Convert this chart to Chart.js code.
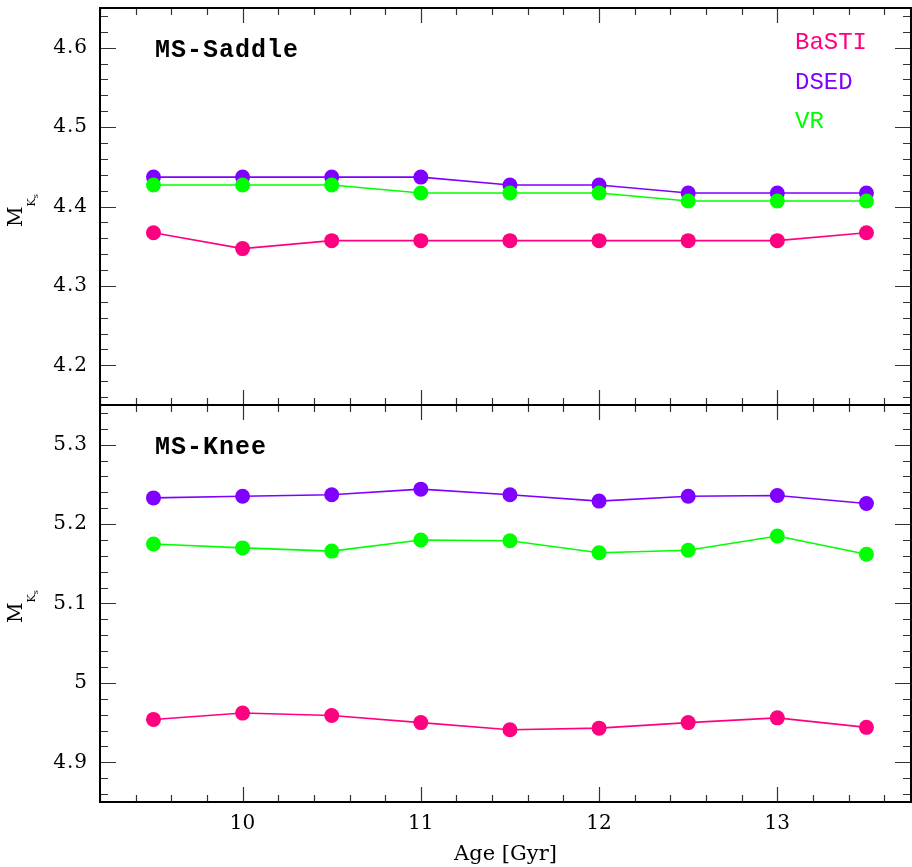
<!DOCTYPE html>
<html><head><meta charset="utf-8">
<script src="https://cdn.jsdelivr.net/npm/chart.js@4.4.1/dist/chart.umd.min.js"></script>
<style>
html,body{margin:0;padding:0;background:#fff;}
#wrap{position:relative;width:912px;height:867px;overflow:hidden;background:#fff;}
canvas{position:absolute;left:0;}
#c1{top:0;} #c2{top:400px;}
</style></head><body>
<div id="wrap"><canvas id="c1" width="912" height="406"></canvas><canvas id="c2" width="912" height="467"></canvas></div>
<script>
// ---- data ----
const ages = [9.5, 10, 10.5, 11, 11.5, 12, 12.5, 13, 13.5];
const seriesNames = ['BaSTI', 'DSED', 'VR'];
const seriesColors = ['#ff0080', '#8000ff', '#00ff00'];
const panelTitles = ['MS-Saddle', 'MS-Knee'];

const saddleBaSTI = [4.367, 4.347, 4.357, 4.357, 4.357, 4.357, 4.357, 4.357, 4.367];
const saddleDSED  = [4.437, 4.437, 4.437, 4.437, 4.427, 4.427, 4.417, 4.417, 4.417];
const saddleVR    = [4.427, 4.427, 4.427, 4.417, 4.417, 4.417, 4.407, 4.407, 4.407];

const kneeBaSTI = [4.954, 4.962, 4.959, 4.950, 4.941, 4.943, 4.950, 4.956, 4.944];
const kneeDSED  = [5.233, 5.235, 5.237, 5.244, 5.237, 5.229, 5.235, 5.236, 5.226];
const kneeVR    = [5.175, 5.170, 5.166, 5.180, 5.179, 5.164, 5.167, 5.185, 5.162];

const xTicks = [10, 11, 12, 13];
const yTicksTop = [4.2, 4.3, 4.4, 4.5, 4.6];
const yTickLabelsTop = ['4.2', '4.3', '4.4', '4.5', '4.6'];
const yTicksBottom = [4.9, 5.0, 5.1, 5.2, 5.3];
const yTickLabelsBottom = ['4.9', '5', '5.1', '5.2', '5.3'];
const xTitle = 'Age [Gyr]';

// ---- helpers ----
const serifFont = '"DejaVu Serif", "Liberation Serif", serif';
const monoFont = '"Liberation Mono", "DejaVu Sans Mono", monospace';

function makeDatasets(vals) {
  return vals.map((v, i) => ({
    label: seriesNames[i],
    data: ages.map((a, k) => ({x: a, y: v[k]})),
    borderColor: seriesColors[i],
    backgroundColor: seriesColors[i],
    pointBackgroundColor: seriesColors[i],
    pointBorderWidth: 0,
    pointRadius: 7.5,
    pointHoverRadius: 7.5,
    borderWidth: 1.6,
    tension: 0,
    order: 2 - i
  }));
}

function tickPlugin(cfg) {
  return {
    id: 'frameTicks',
    afterDraw(chart) {
      const {ctx, chartArea: a, scales: {x, y}} = chart;
      ctx.save();
      // ticks
      ctx.strokeStyle = '#333';
      ctx.lineWidth = 1.2;
      const xMinorStep = 0.2;
      for (let i = Math.ceil(x.min / xMinorStep - 1e-6); i * xMinorStep <= x.max + 1e-6; i++) {
        const v = i * xMinorStep;
        const major = Math.abs(v - Math.round(v)) < 1e-6;
        const len = major ? 15 : 7;
        const px = Math.round(x.getPixelForValue(v)) + 0.5;
        ctx.beginPath();
        ctx.moveTo(px, a.top); ctx.lineTo(px, a.top + len);
        ctx.moveTo(px, a.bottom); ctx.lineTo(px, a.bottom - len);
        ctx.stroke();
      }
      const yMinorStep = 0.02;
      for (let i = Math.ceil(y.min / yMinorStep - 1e-6); i * yMinorStep <= y.max + 1e-6; i++) {
        const v = i * yMinorStep;
        const major = Math.abs(v * 10 - Math.round(v * 10)) < 1e-6;
        const len = major ? 16 : 8;
        const py = Math.round(y.getPixelForValue(v)) + 0.5;
        ctx.beginPath();
        ctx.moveTo(a.left, py); ctx.lineTo(a.left + len, py);
        ctx.moveTo(a.right, py); ctx.lineTo(a.right - len, py);
        ctx.stroke();
      }
      // frame
      ctx.strokeStyle = '#000';
      ctx.lineWidth = 2;
      ctx.strokeRect(a.left, a.top, a.right - a.left, a.bottom - a.top);

      // y tick labels
      ctx.fillStyle = '#000';
      ctx.font = '20px ' + serifFont;
      ctx.letterSpacing = '1px';
      ctx.textAlign = 'right';
      ctx.textBaseline = 'middle';
      cfg.yTicks.forEach((v, i) => {
        ctx.fillText(cfg.yLabels[i], 88, y.getPixelForValue(v));
      });
      ctx.letterSpacing = '0px';

      // panel title
      ctx.font = 'bold 25px ' + monoFont;
      ctx.letterSpacing = '1px';
      ctx.textBaseline = 'alphabetic';
      ctx.textAlign = 'left';
      ctx.fillText(cfg.title, 155, cfg.titleY);
      ctx.letterSpacing = '0px';

      // legend
      if (cfg.legend) {
        ctx.font = '24px ' + monoFont;
        const ys = [49, 89, 128];
        seriesNames.forEach((n, i) => {
          ctx.fillStyle = seriesColors[i];
          ctx.fillText(n, 795, ys[i]);
        });
      }

      // y-axis title M_Ks
      ctx.fillStyle = '#000';
      ctx.translate(22, cfg.yTitleBottom);
      ctx.rotate(-Math.PI / 2);
      ctx.font = '20px ' + serifFont;
      ctx.fillText('M', 0, 0);
      const wM = ctx.measureText('M').width;
      ctx.font = '11px ' + serifFont;
      ctx.fillText('K', wM, 13);
      const wK = ctx.measureText('K').width;
      ctx.font = '8px ' + serifFont;
      ctx.fillText('s', wM + wK, 16);
      ctx.restore();
    }
  };
}

function yScale(min, max, ticks) {
  return {
    type: 'linear', min, max,
    afterBuildTicks: s => { s.ticks = ticks.map(v => ({value: v})); },
    afterFit: s => { s.width = 100; },
    grid: {display: false, drawTicks: false},
    border: {display: false},
    ticks: {display: false}
  };
}

function fixArea(chart, target) {
  for (let k = 0; k < 3; k++) {
    const a = chart.chartArea;
    const p = chart.options.layout.padding;
    const dl = target.left - a.left, dt = target.top - a.top;
    const dr = a.right - target.right, db = a.bottom - target.bottom;
    if (Math.abs(dl) < 0.5 && Math.abs(dt) < 0.5 && Math.abs(dr) < 0.5 && Math.abs(db) < 0.5) break;
    p.left += dl; p.top += dt; p.right += dr; p.bottom += db;
    chart.update();
  }
}

Chart.defaults.animation = false;

const chartTop = new Chart(document.getElementById('c1'), {
  type: 'line',
  data: {datasets: makeDatasets([saddleBaSTI, saddleDSED, saddleVR])},
  options: {
    responsive: false,
    animation: false,
    layout: {autoPadding: false, padding: {top: 8, right: 1, bottom: 1, left: 0}},
    plugins: {legend: {display: false}, tooltip: {enabled: false}},
    scales: {
      x: {type: 'linear', min: 9.2, max: 13.75, display: false},
      y: yScale(4.15, 4.65, yTicksTop)
    }
  },
  plugins: [tickPlugin({title: panelTitles[0], titleY: 57, legend: true, yTitleBottom: 227,
                        yTicks: yTicksTop, yLabels: yTickLabelsTop})]
});

const chartBottom = new Chart(document.getElementById('c2'), {
  type: 'line',
  data: {datasets: makeDatasets([kneeBaSTI, kneeDSED, kneeVR])},
  options: {
    responsive: false,
    animation: false,
    layout: {autoPadding: false, padding: {top: 5, right: 1, bottom: 0, left: 0}},
    plugins: {legend: {display: false}, tooltip: {enabled: false}},
    scales: {
      x: {
        type: 'linear', min: 9.2, max: 13.75,
        afterBuildTicks: s => { s.ticks = xTicks.map(v => ({value: v})); },
        afterFit: s => { s.height = 65; },
        grid: {display: false, drawTicks: false},
        border: {display: false},
        ticks: {color: '#000', padding: 10, maxRotation: 0, font: {family: serifFont, size: 20}},
        title: {display: true, text: xTitle, color: '#000', padding: {top: 2, bottom: 0},
                font: {family: serifFont, size: 21}}
      },
      y: yScale(4.85, 5.35, yTicksBottom)
    }
  },
  plugins: [tickPlugin({title: panelTitles[1], titleY: 54, legend: false, yTitleBottom: 223,
                        yTicks: yTicksBottom, yLabels: yTickLabelsBottom})]
});

fixArea(chartTop, {left: 100, top: 8, right: 911, bottom: 405});
fixArea(chartBottom, {left: 100, top: 5, right: 911, bottom: 402});
</script>
</body></html>
